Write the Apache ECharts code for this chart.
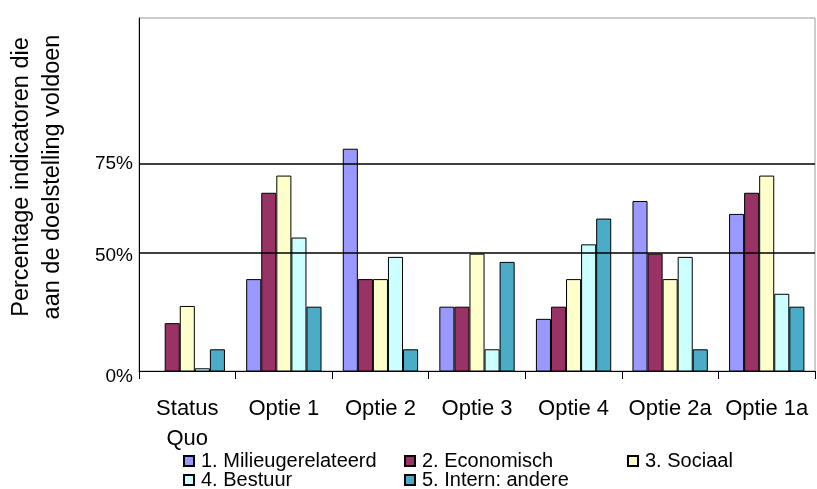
<!DOCTYPE html>
<html>
<head>
    <meta charset="utf-8">
    <title>ECharts</title>
    <script src="https://cdn.jsdelivr.net/npm/echarts@6/dist/echarts.min.js"></script>
    <style>
        html, body { margin: 0; padding: 0; background: #fff; }
    </style>
</head>
<body>
    <div id="main" style="width: 817px;height:489px;"></div>
    <script type="text/javascript">

    // categories (x axis)
    var categories = ['Status\nQuo', 'Optie 1', 'Optie 2', 'Optie 3', 'Optie 4', 'Optie 2a', 'Optie 1a'];

    // series values (percent)
    var milieu     = [0,    42.7, 79.1, 35.0, 31.6, 64.5, 60.9];
    var economisch = [30.4, 66.8, 42.7, 35.0, 35.0, 49.8, 66.8];
    var sociaal    = [35.2, 71.6, 42.7, 49.8, 42.7, 42.7, 71.6];
    var bestuur    = [17.8, 54.3, 48.9, 23.1, 52.4, 48.9, 38.6];
    var intern     = [23.1, 35.0, 23.1, 47.5, 59.6, 23.1, 35.0];

    var seriesNames = ['1. Milieugerelateerd', '2. Economisch', '3. Sociaal', '4. Bestuur', '5. Intern: andere'];
    var seriesColors = ['#9999ff', '#993366', '#ffffcc', '#ccffff', '#4aacc6'];

    // y axis: the bottom of the plot is labelled 0%
    var yMin = 17.04, yMax = 115.6;
    var tickValues = [yMin, 50, 75];
    var gridValues = [50, 75];

    var myChart = echarts.init(document.getElementById('main'));

    var font = '"Liberation Sans", Arial, sans-serif';
    var allData = [milieu, economisch, sociaal, bestuur, intern];

    var series = [];
    for (var i = 0; i < seriesNames.length; i++) {
        series.push({
            name: seriesNames[i],
            type: 'bar',
            data: allData[i],
            barGap: '0%',
            barCategoryGap: '22%',
            itemStyle: { color: seriesColors[i], borderColor: '#000', borderWidth: 1 },
            emphasis: { disabled: true }
        });
    }
    series[0].markLine = {
        silent: true,
        symbol: 'none',
        label: { show: false },
        lineStyle: { color: '#000', type: 'solid', width: 1.5 },
        data: gridValues.map(function (v) { return { yAxis: v }; })
    };

    // legend laid out as a 3-column grid, one legend per entry
    var legendSpots = [[183, 451], [404, 451], [627, 451], [183, 470], [404, 470]];
    var legends = seriesNames.map(function (name, k) {
        return {
            left: legendSpots[k][0],
            top: legendSpots[k][1],
            itemWidth: 10,
            itemHeight: 10,
            padding: 0,
            selectedMode: false,
            icon: 'rect',
            data: [name],
            textStyle: { fontFamily: font, fontSize: 20, color: '#000', lineHeight: 19, padding: [0, 0, 0, 2] }
        };
    });

    var yLabelStyle = { fontFamily: font, fontSize: 19, color: '#000' };

    var option = {
        animation: false,
        textStyle: { fontFamily: font },
        grid: {
            left: 139, top: 18, right: 2, bottom: 118,
            show: true, borderColor: '#999', borderWidth: 1
        },
        legend: legends,
        xAxis: {
            type: 'category',
            data: categories,
            axisLine: { lineStyle: { color: '#000', width: 1 } },
            axisTick: { show: true, length: 8, lineStyle: { color: '#000' } },
            axisLabel: { color: '#000', fontSize: 22, lineHeight: 30, margin: 23, interval: 0 }
        },
        yAxis: {
            type: 'value',
            min: yMin,
            max: yMax,
            axisLine: { show: true, lineStyle: { color: '#000', width: 1 } },
            axisTick: { show: false },
            splitLine: { show: false },
            axisLabel: {
                color: '#000', fontSize: 19, margin: 6,
                customValues: tickValues,
                formatter: function (v) {
                    if (v < 20) return '{low|0%}';
                    if (v === 50) return '{mid|50%}';
                    return '{hi|' + v + '%}';
                },
                rich: {
                    low: Object.assign({ padding: [12, 0, 0, 0] }, yLabelStyle),
                    mid: Object.assign({ padding: [6, 0, 0, 0] }, yLabelStyle),
                    hi: Object.assign({}, yLabelStyle)
                }
            }
        },
        graphic: [{
            type: 'text',
            x: 37,
            y: 177,
            rotation: Math.PI / 2,
            style: {
                text: 'Percentage indicatoren die\naan de doelstelling voldoen',
                font: '23.5px ' + font,
                fill: '#000',
                align: 'center',
                verticalAlign: 'middle',
                lineHeight: 31
            }
        }],
        series: series
    };

    myChart.setOption(option);
    </script>
</body>
</html>
